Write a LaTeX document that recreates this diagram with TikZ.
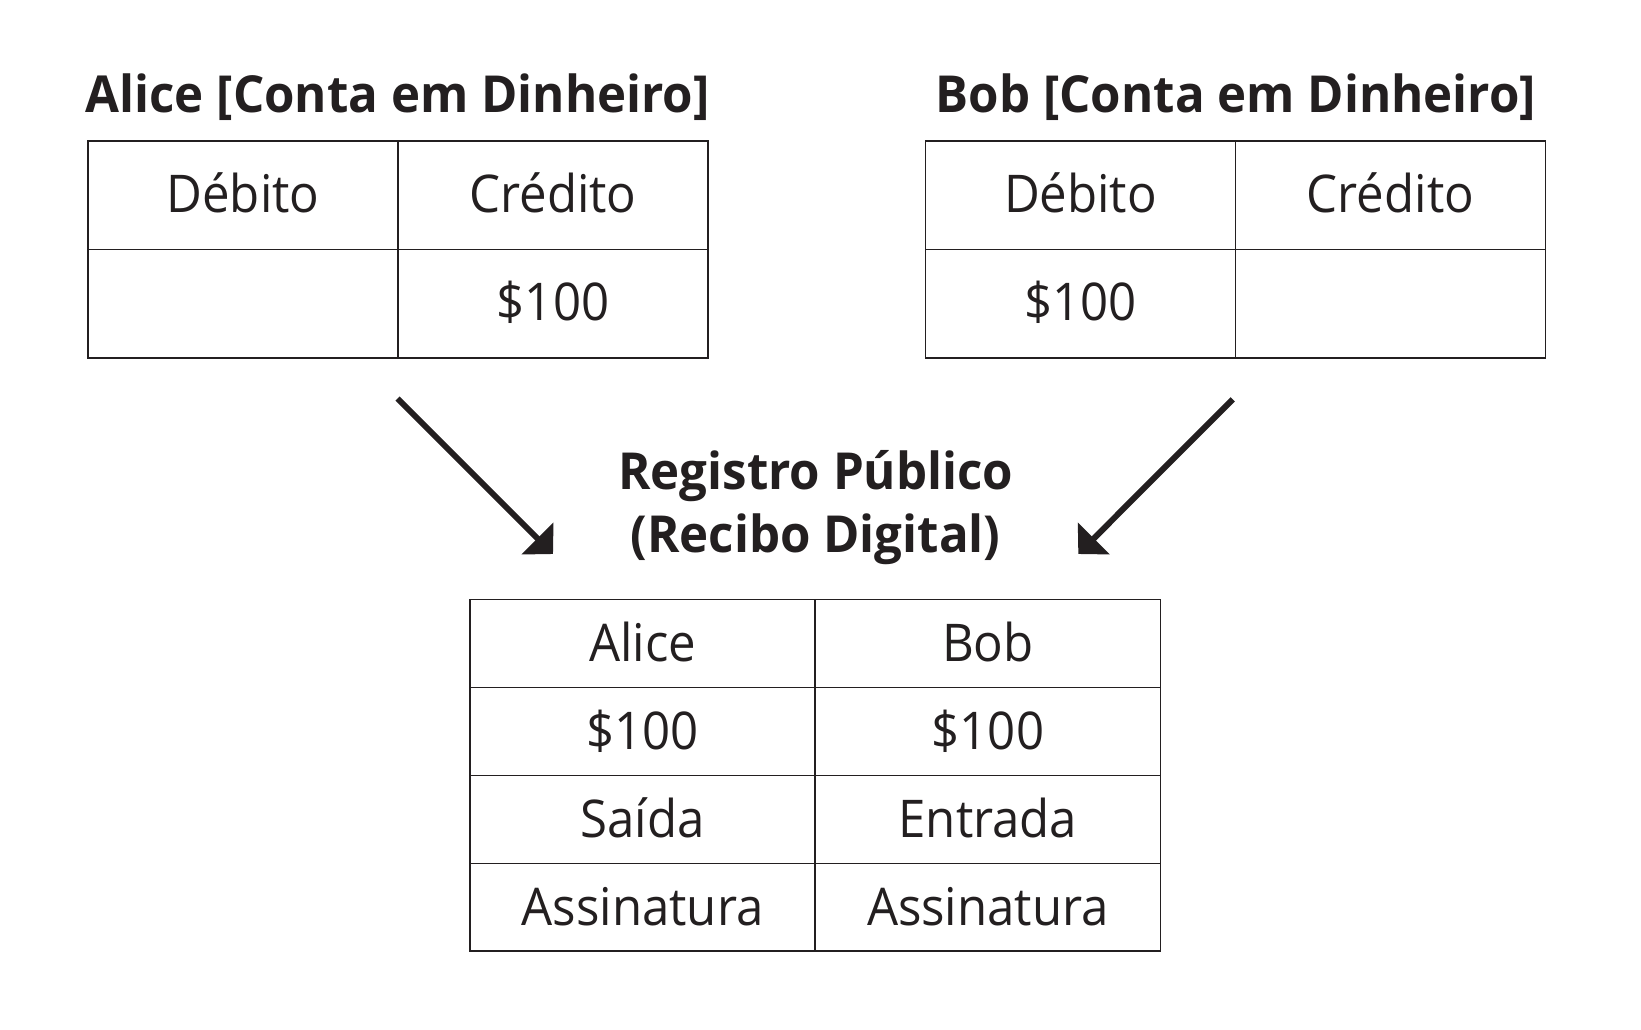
\documentclass[tikz,border=0pt]{standalone}
\usepackage{fontspec}
\setmainfont{Open Sans}[FakeStretch=0.945]
\newfontfamily\tfont{Open Sans}[FakeStretch=0.965]
\usetikzlibrary{arrows.meta}
\definecolor{ink}{HTML}{231F20}
\tikzset{
  cellA/.style={draw=ink, line width=1.6pt, minimum width=310pt, minimum height=108.3pt,
    inner sep=0pt, text=ink, font=\fontsize{52}{60}\selectfont, text height=34pt, text depth=0pt},
  cellB/.style={cellA, minimum width=345.25pt, minimum height=87.9pt, text height=36pt},
  title/.style={text=ink, font=\fontsize{51}{62}\selectfont\tfont\bfseries, anchor=base, inner sep=0pt},
  arr/.style={draw=ink, line width=6pt, -{Triangle[length=22pt, width=44pt]}}
}
\begin{document}
\begin{tikzpicture}[x=1pt, y=-1pt]
\useasboundingbox[fill=white] (0,0) rectangle (1641,1030);
% Alice
\node[title] (at) at (397.7,113) {Alice [Conta em Dinheiro]};
\node[cellA] (a11) at (243,195.45) {Débito};
\node[cellA] (a12) at (553,195.45) {Crédito};
\node[cellA] (a21) at (243,303.75) {};
\node[cellA] (a22) at (553,303.75) {\$100};
% Bob
\node[title] (bt) at (1236,113) {Bob [Conta em Dinheiro]};
\node[cellA] (b11) at (1080.5,195.45) {Débito};
\node[cellA] (b12) at (1390.5,195.45) {Crédito};
\node[cellA] (b21) at (1080.5,303.75) {\$100};
\node[cellA] (b22) at (1390.5,303.75) {};
% Registro
\node[title] (r1) at (815.8,489.8) {Registro Público};
\node[title] (r2) at (815.5,552.6) {(Recibo Digital)};
\node[cellB] (c11) at (642.6,643.6) {Alice};
\node[cellB] (c12) at (987.9,643.6) {Bob};
\node[cellB] (c21) at (642.6,731.5) {\$100};
\node[cellB] (c22) at (987.9,731.5) {\$100};
\node[cellB] (c31) at (642.6,819.4) {Saída};
\node[cellB] (c32) at (987.9,819.4) {Entrada};
\node[cellB] (c41) at (642.6,907.3) {Assinatura};
\node[cellB] (c42) at (987.9,907.3) {Assinatura};
% arrows
\coordinate (las) at (397.5,398.5);
\coordinate (lae) at (553,554);
\coordinate (ras) at (1232.7,399.3);
\coordinate (rae) at (1078.3,554);
\draw[arr] (las) -- (lae);
\draw[arr] (ras) -- (rae);
\end{tikzpicture}
\end{document}
